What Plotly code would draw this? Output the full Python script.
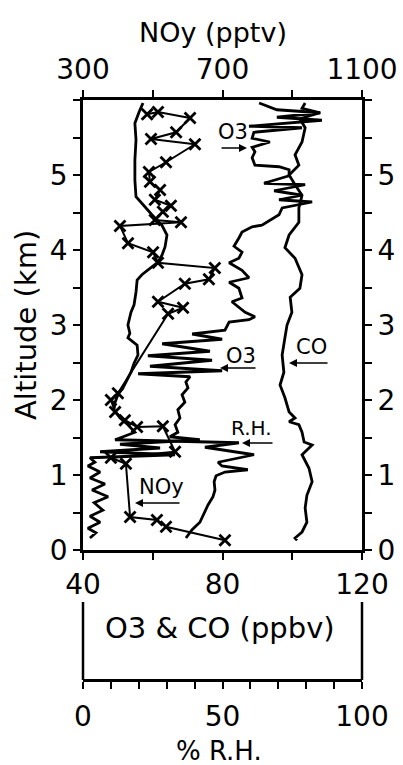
import plotly.graph_objects as go

W, H = 403, 765
FONT = "DejaVu Sans"

# ---------------- data ----------------
# NOy (pptv), x markers, top axis
noy_alt = [5.81, 5.84, 5.76, 5.57, 5.48, 5.41, 5.17, 5.04, 4.91, 4.80, 4.67, 4.59, 4.51,
           4.40, 4.37, 4.32, 4.09, 3.97, 3.83, 3.76, 3.61, 3.55, 3.31, 3.23, 3.15, 2.09,
           2.00, 1.84, 1.73, 1.64, 1.65, 1.31, 1.23, 1.15, 0.44, 0.40, 0.31, 0.13]
noy_val = [484, 515, 607, 567, 495, 621, 538, 489, 492, 521, 506, 552, 529,
           506, 581, 406, 429, 501, 515, 678, 661, 592, 515, 587, 544, 400,
           380, 392, 420, 455, 529, 564, 380, 423, 435, 512, 538, 707]

# O3 (ppbv), bottom axis
o3_alt = [0.16, 0.23, 0.29, 0.37, 0.45, 0.53, 0.63, 0.71, 0.80, 0.88, 0.96, 1.04, 1.12,
          1.17, 1.23, 1.27, 1.31, 1.36, 1.41, 1.47, 1.51, 1.57, 1.67, 1.76, 1.87, 1.97,
          2.07, 2.16, 2.24, 2.31, 2.35, 2.39, 2.45, 2.53, 2.59, 2.65, 2.75, 2.81, 2.88,
          2.93, 3.04, 3.07, 3.11, 3.17, 3.31, 3.36, 3.49, 3.57, 3.63, 3.73, 3.83, 3.89,
          3.97, 4.05, 4.16, 4.24, 4.31, 4.33, 4.47, 4.56, 4.64, 4.67, 4.73, 4.79, 4.87,
          4.89, 4.99, 5.07, 5.11, 5.13, 5.23, 5.31, 5.37, 5.44, 5.49, 5.57, 5.63, 5.65,
          5.73, 5.77, 5.83, 5.87, 5.96]
o3_val = [42.0, 43.7, 41.4, 44.9, 42.0, 45.7, 43.2, 47.2, 42.6, 46.3, 42.0, 44.9, 41.4,
          43.4, 42.0, 66.4, 44.9, 62.1, 50.6, 73.5, 64.9, 67.2, 66.4, 67.8, 67.2, 69.2,
          68.4, 70.1, 69.5, 70.7, 55.8, 79.9, 59.2, 77.0, 58.6, 76.4, 62.7, 79.9, 71.3,
          80.7, 81.9, 87.6, 89.3, 86.5, 82.7, 85.6, 84.7, 81.9, 87.6, 85.6, 81.9, 84.7,
          85.6, 83.3, 84.7, 85.6, 88.5, 91.3, 96.2, 97.1, 105.7, 96.2, 102.8, 94.8, 103.7,
          91.9, 99.1, 99.1, 96.2, 89.3, 88.5, 89.3, 88.5, 93.6, 88.5, 89.0, 102.8, 87.6,
          108.5, 95.6, 108.0, 95.6, 90.5]

# CO (ppbv), bottom axis
co_alt = [0.13, 0.16, 0.24, 0.37, 0.56, 0.73, 0.91, 1.09, 1.27, 1.40, 1.44, 1.57, 1.67,
          1.71, 1.76, 1.84, 2.03, 2.20, 2.37, 2.60, 2.83, 3.00, 3.17, 3.37, 3.49, 3.67,
          3.89, 4.03, 4.20, 4.37, 4.56, 4.73, 4.87, 5.00, 5.13, 5.27, 5.44, 5.63, 5.75,
          5.83, 5.89, 5.96]
co_val = [101.4, 100.8, 102.8, 104.2, 103.7, 104.2, 105.7, 104.8, 102.8, 105.7, 103.4,
          102.8, 101.9, 99.1, 100.8, 99.1, 97.9, 96.5, 97.6, 97.1, 97.9, 98.5, 99.9, 99.4,
          102.2, 102.8, 100.8, 97.9, 99.1, 101.9, 101.9, 102.8, 100.8, 99.1, 101.9, 100.8,
          102.8, 103.7, 102.2, 108.0, 102.8, 103.7]

# Relative humidity (%), lower axis
rh_alt = [0.16, 0.27, 0.37, 0.51, 0.60, 0.71, 0.80, 0.91, 0.99, 1.04, 1.07, 1.12, 1.17,
          1.27, 1.33, 1.37, 1.43, 1.45, 1.47, 1.52, 1.57, 1.67, 1.76, 1.87, 1.97, 2.07,
          2.16, 2.27, 2.37, 2.49, 2.60, 2.73, 2.83, 2.89, 3.00, 3.17, 3.27, 3.44, 3.60,
          3.67, 3.76, 3.84, 3.93, 4.04, 4.20, 4.33, 4.47, 4.57, 4.71, 4.93, 5.20, 5.47,
          5.69, 5.84, 5.96]
rh_val = [36.9, 39.1, 41.9, 43.7, 44.8, 46.6, 47.3, 47.0, 47.7, 50.9, 59.1, 49.8, 48.4,
          61.3, 50.9, 43.7, 55.9, 34.8, 11.5, 15.1, 18.6, 16.1, 13.3, 11.1, 11.5, 12.5,
          14.3, 15.8, 17.2, 18.3, 19.7, 19.4, 16.1, 16.8, 16.1, 17.2, 18.3, 19.0, 19.4,
          21.1, 24.0, 26.9, 28.3, 29.4, 30.1, 28.3, 24.7, 22.2, 19.0, 18.6, 18.6, 19.0,
          18.6, 20.1, 21.5]

alt_ticks = [0, 0.5, 1, 1.5, 2, 2.5, 3, 3.5, 4, 4.5, 5, 5.5, 6]
alt_text = ["0", "", "1", "", "2", "", "3", "", "4", "", "5", "", ""]
chem_ticks = [40, 60, 80, 100, 120]
chem_text = ["40", "", "80", "", "120"]
noy_ticks = [300, 500, 700, 900, 1100]
noy_text = ["300", "", "700", "", "1100"]
rh_ticks = [0, 10, 20, 30, 40, 50, 60, 70, 80, 90, 100]
rh_text = ["0", "", "", "", "", "50", "", "", "", "", "100"]

# ---------------- figure ----------------
def px(x):
    return x / W

def py(y):
    return 1 - y / H

X0, X1 = px(83), px(362)
Y0, Y1 = py(550), py(100)

fig = go.Figure()
line_style = dict(color="black", width=2.8)
fig.add_trace(go.Scatter(x=o3_val, y=o3_alt, mode="lines", line=line_style,
                         xaxis="x", yaxis="y", name="O3"))
fig.add_trace(go.Scatter(x=co_val, y=co_alt, mode="lines", line=line_style,
                         xaxis="x", yaxis="y", name="CO"))
fig.add_trace(go.Scatter(x=rh_val, y=rh_alt, mode="lines", line=line_style,
                         xaxis="x3", yaxis="y", name="R.H."))
fig.add_trace(go.Scatter(x=noy_val, y=noy_alt, mode="lines+markers",
                         line=dict(color="black", width=2),
                         marker=dict(symbol="x-thin", size=11, color="black",
                                     line=dict(color="black", width=2.8)),
                         xaxis="x2", yaxis="y", name="NOy"))
fig.add_trace(go.Scatter(x=[None], y=[None], xaxis="x", yaxis="y2", showlegend=False))

tickfont = dict(family=FONT, size=28, color="black")
common = dict(showgrid=False, zeroline=False, showline=True, linecolor="black",
              linewidth=2.8, ticks="outside", tickcolor="black", tickwidth=2,
              ticklen=7, tickfont=tickfont, tickmode="array", fixedrange=True,
              automargin=False)

fig.update_layout(
    width=W, height=H,
    margin=dict(l=0, r=0, t=0, b=0, autoexpand=False),
    paper_bgcolor="white", plot_bgcolor="white",
    showlegend=False,
    xaxis=dict(domain=[X0, X1], range=[40, 120], anchor="y", side="bottom",
               tickvals=chem_ticks, ticktext=chem_text, **common),
    xaxis2=dict(range=[300, 1100], anchor="y", overlaying="x", side="top",
                tickvals=noy_ticks, ticktext=noy_text, **common),
    xaxis3=dict(range=[0, 100], anchor="free", position=py(680), overlaying="x",
                side="bottom", tickvals=rh_ticks, ticktext=rh_text,
                ticklabelstandoff=3, **common),
    yaxis=dict(domain=[Y0, Y1], range=[0, 6], anchor="x", side="left",
               tickvals=alt_ticks, ticktext=alt_text, **common),
    yaxis2=dict(range=[0, 6], anchor="x", overlaying="y", side="right",
                tickvals=alt_ticks, ticktext=alt_text, **common),
)

# lower box side lines
for xx in (83, 362):
    fig.add_shape(type="line", xref="paper", yref="paper",
                  x0=px(xx), x1=px(xx), y0=py(602), y1=py(680),
                  line=dict(color="black", width=2.5))

def label(text, x, y, size=25, angle=0):
    fig.add_annotation(text=text, x=px(x), y=py(y), xref="paper", yref="paper",
                       showarrow=False, textangle=angle,
                       font=dict(family=FONT, size=size, color="black"),
                       xanchor="center", yanchor="middle")

def arrow(x_tail, x_tip, y):
    fig.add_annotation(text="", x=px(x_tip), y=py(y), xref="paper", yref="paper",
                       ax=x_tail - x_tip, ay=0, showarrow=True, arrowhead=2,
                       arrowsize=1, arrowwidth=1.6, arrowcolor="black")

# axis titles
label("NOy (pptv)", 213, 33, size=27)
label("Altitude (km)", 26, 325, size=29, angle=-90)
label("O3 & CO (ppbv)", 220, 628, size=29)
label("% R.H.", 219, 751, size=26)

# in-plot labels with arrows
label("O3", 233, 132, size=21)
arrow(220, 247, 148)
label("O3", 241, 356, size=21)
arrow(257, 220, 368)
label("CO", 311, 347, size=21)
arrow(329, 289, 363)
label("R.H.", 251, 428, size=20)
arrow(274, 242, 443)
label("NOy", 161, 487, size=21)
arrow(181, 135, 503)

fig.write_html("out.html")
